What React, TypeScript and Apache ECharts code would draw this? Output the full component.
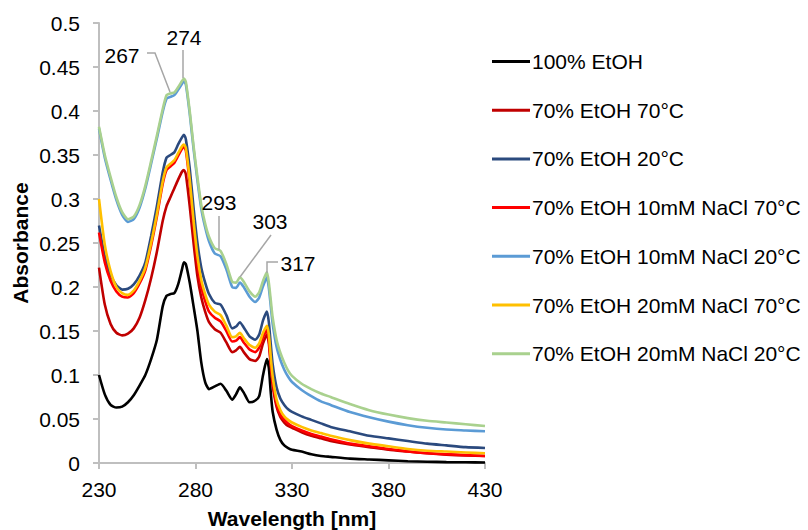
import React, { useEffect, useRef } from "react";
import * as echarts from "echarts";

const wavelengths = [230, 233, 236, 239, 242, 245, 248, 251, 254, 257, 260, 263, 265, 267, 269, 271, 273, 274, 275, 277, 279, 281, 283, 285, 287, 290, 293, 296, 299, 301, 303, 305, 308, 311, 313, 315, 317, 318, 319, 320, 322, 324, 326, 328, 330, 335, 340, 345, 350, 360, 370, 380, 390, 400, 410, 420, 430];

const etoh100 = [0.100, 0.078, 0.066, 0.063, 0.064, 0.069, 0.077, 0.088, 0.100, 0.118, 0.140, 0.178, 0.190, 0.192, 0.193, 0.203, 0.220, 0.228, 0.226, 0.205, 0.178, 0.150, 0.114, 0.092, 0.084, 0.087, 0.090, 0.082, 0.072, 0.078, 0.086, 0.080, 0.069, 0.071, 0.076, 0.100, 0.118, 0.108, 0.080, 0.058, 0.038, 0.026, 0.020, 0.017, 0.015, 0.013, 0.010, 0.008, 0.007, 0.005, 0.004, 0.003, 0.002, 0.0015, 0.001, 0.0008, 0.0005];
const etoh70_70C = [0.222, 0.180, 0.158, 0.148, 0.145, 0.147, 0.153, 0.165, 0.185, 0.210, 0.240, 0.275, 0.292, 0.302, 0.312, 0.322, 0.331, 0.333, 0.328, 0.292, 0.250, 0.212, 0.188, 0.172, 0.160, 0.152, 0.148, 0.137, 0.126, 0.128, 0.132, 0.126, 0.118, 0.116, 0.121, 0.136, 0.146, 0.136, 0.110, 0.088, 0.064, 0.052, 0.046, 0.042, 0.040, 0.035, 0.031, 0.028, 0.025, 0.021, 0.018, 0.015, 0.013, 0.011, 0.0095, 0.0085, 0.008];
const etoh70_20C = [0.270, 0.235, 0.214, 0.202, 0.197, 0.198, 0.203, 0.213, 0.228, 0.258, 0.292, 0.330, 0.347, 0.350, 0.353, 0.362, 0.370, 0.373, 0.368, 0.335, 0.290, 0.250, 0.222, 0.205, 0.192, 0.182, 0.180, 0.168, 0.153, 0.155, 0.160, 0.154, 0.144, 0.140, 0.146, 0.162, 0.172, 0.160, 0.135, 0.112, 0.086, 0.073, 0.066, 0.061, 0.058, 0.053, 0.049, 0.045, 0.041, 0.036, 0.031, 0.028, 0.025, 0.022, 0.020, 0.018, 0.017];
const nacl10_70C = [0.262, 0.228, 0.207, 0.195, 0.189, 0.188, 0.193, 0.204, 0.219, 0.247, 0.280, 0.317, 0.333, 0.337, 0.341, 0.349, 0.357, 0.359, 0.355, 0.318, 0.270, 0.228, 0.200, 0.184, 0.172, 0.165, 0.161, 0.150, 0.138, 0.139, 0.143, 0.137, 0.129, 0.126, 0.131, 0.143, 0.151, 0.140, 0.114, 0.092, 0.067, 0.055, 0.049, 0.045, 0.042, 0.037, 0.033, 0.030, 0.027, 0.022, 0.019, 0.016, 0.013, 0.011, 0.010, 0.009, 0.008];
const nacl10_20C = [0.380, 0.347, 0.322, 0.299, 0.282, 0.274, 0.277, 0.290, 0.312, 0.340, 0.369, 0.399, 0.414, 0.416, 0.418, 0.424, 0.431, 0.434, 0.430, 0.397, 0.357, 0.321, 0.289, 0.268, 0.252, 0.238, 0.235, 0.220, 0.200, 0.199, 0.205, 0.200, 0.189, 0.183, 0.188, 0.201, 0.211, 0.199, 0.178, 0.158, 0.132, 0.117, 0.106, 0.098, 0.092, 0.083, 0.076, 0.070, 0.066, 0.058, 0.052, 0.047, 0.043, 0.040, 0.038, 0.037, 0.036];
const nacl20_70C = [0.300, 0.248, 0.218, 0.200, 0.193, 0.191, 0.196, 0.207, 0.222, 0.250, 0.283, 0.320, 0.336, 0.340, 0.344, 0.352, 0.360, 0.362, 0.358, 0.322, 0.275, 0.235, 0.208, 0.192, 0.180, 0.172, 0.168, 0.156, 0.143, 0.144, 0.148, 0.142, 0.134, 0.131, 0.136, 0.148, 0.156, 0.146, 0.120, 0.098, 0.072, 0.060, 0.053, 0.049, 0.046, 0.041, 0.037, 0.034, 0.031, 0.026, 0.022, 0.019, 0.016, 0.014, 0.013, 0.012, 0.011];
const nacl20_20C = [0.382, 0.350, 0.325, 0.302, 0.285, 0.277, 0.280, 0.293, 0.315, 0.343, 0.372, 0.402, 0.418, 0.420, 0.421, 0.427, 0.434, 0.437, 0.433, 0.400, 0.360, 0.325, 0.293, 0.272, 0.257, 0.244, 0.241, 0.226, 0.206, 0.205, 0.211, 0.206, 0.195, 0.189, 0.194, 0.207, 0.217, 0.205, 0.185, 0.165, 0.140, 0.125, 0.114, 0.105, 0.099, 0.090, 0.084, 0.079, 0.075, 0.067, 0.060, 0.055, 0.051, 0.048, 0.046, 0.044, 0.042];

const seriesNames = [
  "100% EtOH",
  "70% EtOH 70°C",
  "70% EtOH 20°C",
  "70% EtOH 10mM NaCl 70°C",
  "70% EtOH 10mM NaCl 20°C",
  "70% EtOH 20mM NaCl 70°C",
  "70% EtOH 20mM NaCl 20°C",
];
const seriesValues = [etoh100, etoh70_70C, etoh70_20C, nacl10_70C, nacl10_20C, nacl20_70C, nacl20_20C];
const seriesColors = ["#000000", "#C00000", "#2B4A7E", "#FF0000", "#5B9BD5", "#FFC000", "#A9D18E"];

const peakLabels = ["267", "274", "293", "303", "317"];

const FONT = "'Liberation Sans', Arial, sans-serif";

export default function App() {
  const ref = useRef<HTMLDivElement>(null);
  useEffect(() => {
    if (!ref.current) return;
    const chart = echarts.init(ref.current, undefined, { renderer: "svg" });
    const leader = { stroke: "#A6A6A6", lineWidth: 1.5, fill: "none" };
    const txt = (text: string, x: number, y: number) => ({
      type: "text",
      x,
      y,
      style: { text, fill: "#000", font: `21px ${FONT}`, textAlign: "center", textVerticalAlign: "middle" },
    });
    chart.setOption({
      animation: false,
      backgroundColor: "#fff",
      textStyle: { fontFamily: FONT },
      grid: { left: 99, right: 323, top: 23, bottom: 67, containLabel: false, outerBoundsMode: "none" },
      legend: {
        orient: "vertical",
        left: 487,
        top: 46,
        icon: "rect",
        itemWidth: 38,
        itemHeight: 3,
        itemGap: 27.7,
        textStyle: { fontSize: 21, lineHeight: 21, height: 21, color: "#000", fontFamily: FONT, padding: [0, 0, 0, -3] },
        data: seriesNames,
      },
      xAxis: {
        type: "value",
        min: 230,
        max: 430,
        interval: 50,
        name: "Wavelength [nm]",
        nameLocation: "middle",
        nameGap: 45,
        nameTextStyle: { fontSize: 21, fontWeight: "bold", color: "#000", fontFamily: FONT },
        axisLine: { show: true, lineStyle: { color: "#BFBFBF", width: 2 } },
        axisTick: { show: true, length: 6, lineStyle: { color: "#BFBFBF", width: 2 } },
        axisLabel: { fontSize: 21, color: "#000", margin: 16, fontFamily: FONT },
        splitLine: { show: false },
      },
      yAxis: {
        type: "value",
        min: 0,
        max: 0.5,
        interval: 0.05,
        name: "Absorbance",
        nameLocation: "middle",
        nameGap: 68,
        nameTextStyle: { fontSize: 21, fontWeight: "bold", color: "#000", fontFamily: FONT },
        axisLine: { show: true, lineStyle: { color: "#BFBFBF", width: 2 } },
        axisTick: { show: true, length: 6, lineStyle: { color: "#BFBFBF", width: 2 } },
        axisLabel: { fontSize: 21, color: "#000", margin: 19, fontFamily: FONT },
        splitLine: { show: false },
      },
      series: seriesNames.map((name, i) => ({
        name,
        type: "line",
        symbol: "none",
        smooth: 0.2,
        data: wavelengths.map((w, j) => [w, seriesValues[i][j]]),
        lineStyle: { color: seriesColors[i], width: 2.6 },
        itemStyle: { color: seriesColors[i] },
        z: 2 + i,
      })),
      graphic: [
        { type: "polyline", shape: { points: [[147, 53], [155, 53], [170, 92]] }, style: leader, z: 100 },
        { type: "line", shape: { x1: 183, y1: 50, x2: 183, y2: 78 }, style: leader, z: 100 },
        { type: "line", shape: { x1: 219, y1: 216, x2: 219, y2: 250 }, style: leader, z: 100 },
        { type: "line", shape: { x1: 271, y1: 235, x2: 240, y2: 277 }, style: leader, z: 100 },
        { type: "polyline", shape: { points: [[278, 262], [267, 262], [267, 273]] }, style: leader, z: 100 },
        { ...txt(peakLabels[0], 122, 55), z: 100 },
        { ...txt(peakLabels[1], 184, 37), z: 100 },
        { ...txt(peakLabels[2], 219, 202), z: 100 },
        { ...txt(peakLabels[3], 270, 221), z: 100 },
        { ...txt(peakLabels[4], 298, 263), z: 100 },
      ],
    });
    return () => chart.dispose();
  }, []);
  return <div ref={ref} style={{ position: "fixed", left: 0, top: 0, width: 808, height: 530 }} />;
}
